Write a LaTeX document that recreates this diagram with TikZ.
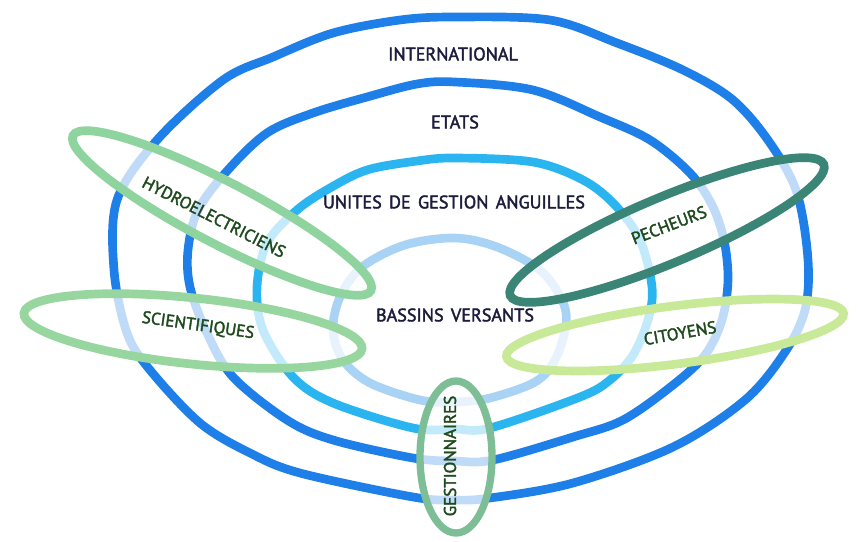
\documentclass[tikz,border=0pt]{standalone}
\usepackage{fontspec}
\setmainfont{PT Sans}
\newfontfamily\handfont[FakeBold=2.2, WordSpace=1.5]{PT Sans}
\usepackage{xcolor}
\usetikzlibrary{
    calc,
    positioning
}

\definecolor{ringblue}{HTML}{1E7FE8}
\definecolor{ringcyan}{HTML}{2AB4F0}
\definecolor{ringpale}{HTML}{A9D3F5}
\definecolor{hydrogreen}{HTML}{8FD49E}
\definecolor{scigreen}{HTML}{98D6A0}
\definecolor{pechteal}{HTML}{3A8576}
\definecolor{citlime}{HTML}{C8EA98}
\definecolor{gestgreen}{HTML}{7DBE97}
\definecolor{levelink}{HTML}{1C1C3C}
\definecolor{actorink}{HTML}{1E4A1E}

\begin{document}
\begin{tikzpicture}[x=0.3mm, y=-0.3mm,
    ring/.style={line width=2.6mm, line join=round},
    group/.style={line width=2.6mm, fill=white, fill opacity=0.72},
    level/.style={text=levelink, font=\handfont\fontsize{15.5}{18}\selectfont},
    actor/.style={text=actorink, font=\handfont\fontsize{14.5}{17}\selectfont}]
\useasboundingbox (0,0) rectangle (858,541);

\draw[ring, draw=ringblue] plot[smooth cycle, tension=0.55] coordinates {
    (455,17) (550,20) (617,43) (683,70) (733,100) (770,143) (797,193)
    (808,260) (805,310) (785,352) (745,400) (673,447) (573,483) (490,498)
    (455,500) (413,497) (300,473) (250,453) (200,423) (150,370) (127,333)
    (114,270) (117,200) (157,140) (223,80) (273,57) (333,33) (400,20)};
\draw[ring, draw=ringblue] plot[smooth cycle, tension=0.55] coordinates {
    (455,82) (533,90) (600,117) (650,140) (690,173) (712,205) (724,240)
    (728,280) (722,320) (705,355) (673,385) (623,420) (573,437) (493,460)
    (455,461) (413,458) (333,440) (287,420) (233,377) (207,333) (190,287)
    (188,250) (198,210) (227,171) (267,133) (313,113) (367,97) (417,84)};
\draw[ring, draw=ringcyan] plot[smooth cycle, tension=0.55] coordinates {
    (455,158) (533,162) (583,180) (615,205) (640,240) (652,287) (648,320)
    (633,355) (610,380) (580,397) (490,428) (455,429) (413,428) (333,403)
    (293,377) (263,330) (257,287) (267,243) (297,210) (330,188) (367,170)
    (417,161)};
\draw[ring, draw=ringpale] plot[smooth cycle, tension=0.55] coordinates {
    (455,238) (497,247) (540,270) (562,300) (566,325) (555,360) (535,382)
    (490,398) (455,402) (420,400) (370,383) (343,360) (333,330) (340,297)
    (362,267) (405,245)};

\draw[group, draw=hydrogreen, rotate around={-27.5:(222,213)}]
    (222,213) ellipse [x radius=168, y radius=31];
\draw[group, draw=scigreen, rotate around={-6:(193,331)}]
    (193,331) ellipse [x radius=170, y radius=33];
\draw[group, draw=pechteal, rotate around={22.7:(667,230)}]
    (667,230) ellipse [x radius=170, y radius=33];
\draw[group, draw=citlime, rotate around={7.3:(675,335)}]
    (675,335) ellipse [x radius=170, y radius=29];
\draw[group, draw=gestgreen, line width=2.2mm] (456,457) ellipse [x radius=36, y radius=76];

\node[level] (intl) at (453,54) {INTERNATIONAL};
\node[level] (etats) at (455,122) {ETATS};
\node[level] (uga) at (454,202) {UNITES DE GESTION ANGUILLES};
\node[level] (bassins) at (455,315) {BASSINS VERSANTS};

\node[actor, rotate=-27] (hydro) at (214,217) {HYDROELECTRICIENS};
\node[actor, rotate=-8] (sci) at (198,326) {SCIENTIFIQUES};
\node[actor, rotate=21] (pech) at (669,225) {PECHEURS};
\node[actor, rotate=10] (cit) at (680,333) {CITOYENS};
\node[actor, rotate=90] (gest) at (450,456) {GESTIONNAIRES};
\end{tikzpicture}
\end{document}
